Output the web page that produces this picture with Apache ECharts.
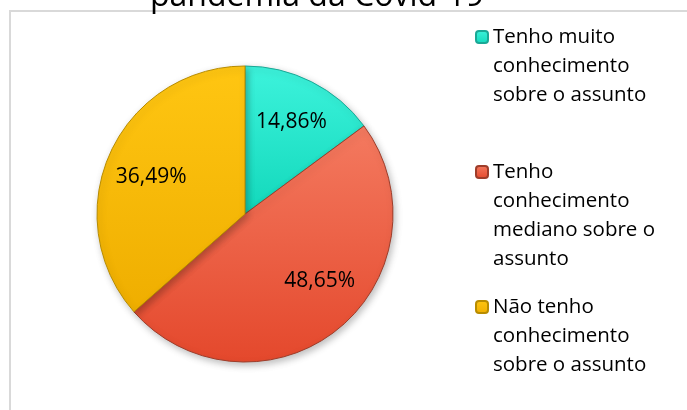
<!DOCTYPE html>
<html>
<head>
	<meta charset="utf-8">
	<script src="https://cdn.jsdelivr.net/npm/echarts@6/dist/echarts.min.js"></script>
</head>
<body style="margin:0;background:#fff;">
	<div id="main" style="width: 687px; height: 410px;"></div>
<script type="text/javascript">
        // dados
        var titulo = 'pandemia da Covid-19';
        var categorias = [
            'Tenho muito conhecimento sobre o assunto',
            'Tenho conhecimento mediano sobre o assunto',
            'Não tenho conhecimento sobre o assunto'
        ];
        var legendaLinhas = [
            ['Tenho muito', 'conhecimento', 'sobre o assunto'],
            ['Tenho', 'conhecimento', 'mediano sobre o', 'assunto'],
            ['Não tenho', 'conhecimento', 'sobre o assunto']
        ];
        var valores = [14.86, 48.65, 36.49];

        var cores = [
            ['#3df3dc', '#12d8bb', '#1aa896'],
            ['#f47a60', '#e4482c', '#9e3d2a'],
            ['#ffc612', '#efae00', '#b88c00']
        ];
        // pequenos ajustes dos rótulos (como no Excel)
        var deslocRotulo = [[0, 0], [10, -13], [0, 5]];

        var myChart = echarts.init(document.getElementById('main'));

        var fonte = '"Open Sans", sans-serif';
        var alturaLinha = 29;
        var centrosLegenda = [37, 172, 307];

        var dadosPizza = [];
        var dadosRotulo = [];
        for (var i = 0; i < categorias.length; i++) {
            dadosPizza.push({
                name: categorias[i],
                value: valores[i],
                itemStyle: {
                    color: new echarts.graphic.LinearGradient(0, 0, 0, 1, [
                        {offset: 0, color: cores[i][0]},
                        {offset: 1, color: cores[i][1]}
                    ]),
                    borderColor: cores[i][2]
                }
            });
            dadosRotulo.push({
                name: categorias[i],
                value: valores[i],
                label: {offset: deslocRotulo[i]}
            });
        }

        // uma legenda por item, com a primeira linha alinhada ao ícone
        var legendas = [];
        for (var j = 0; j < categorias.length; j++) {
            var n = legendaLinhas[j].length;
            var vazias = [];
            for (var k = 1; k < n; k++) vazias.push(' ');
            legendas.push({
                data: [categorias[j]],
                left: 475,
                top: centrosLegenda[j] - (2 * n - 1) * alturaLinha / 2,
                orient: 'vertical',
                padding: 0,
                itemWidth: 12,
                itemHeight: 12,
                selectedMode: false,
                formatter: (function (linhas) {
                    return function () { return linhas.join('\n'); };
                })(vazias.concat(legendaLinhas[j])),
                textStyle: {
                    fontFamily: fonte,
                    fontSize: 20.5,
                    color: '#000',
                    lineHeight: alturaLinha
                }
            });
        }

        option = {
            backgroundColor: '#ffffff',
            animation: false,
            title: {
                text: titulo,
                left: 150,
                top: -19,
                padding: 0,
                textStyle: {
                    fontFamily: fonte,
                    fontSize: 32,
                    fontWeight: 'normal',
                    color: '#000'
                }
            },
            legend: legendas,
            graphic: [{
                type: 'rect',
                shape: {x: 10, y: 11, width: 700, height: 420},
                style: {fill: 'none', stroke: '#d9d9d9', lineWidth: 2},
                silent: true
            }],
            series: [
                {
                    name: 'fatias',
                    type: 'pie',
                    center: [245, 214],
                    radius: [0, 148],
                    startAngle: 90,
                    clockwise: true,
                    label: {show: false},
                    labelLine: {show: false},
                    emphasis: {disabled: true},
                    itemStyle: {
                        borderWidth: 1,
                        shadowBlur: 7,
                        shadowOffsetX: 2,
                        shadowOffsetY: 3,
                        shadowColor: 'rgba(0,0,0,0.25)'
                    },
                    data: dadosPizza
                },
                {
                    name: 'rotulos',
                    type: 'pie',
                    center: [245, 214],
                    radius: [52, 148],
                    startAngle: 90,
                    clockwise: true,
                    silent: true,
                    itemStyle: {color: 'rgba(0,0,0,0)'},
                    labelLine: {show: false},
                    label: {
                        show: true,
                        position: 'inside',
                        fontFamily: fonte,
                        fontSize: 21,
                        color: '#000',
                        formatter: function (p) {
                            return p.value.toFixed(2).replace('.', ',') + '%';
                        }
                    },
                    data: dadosRotulo
                }
            ]
        };

        myChart.setOption(option);
    </script>
</body>
</html>
